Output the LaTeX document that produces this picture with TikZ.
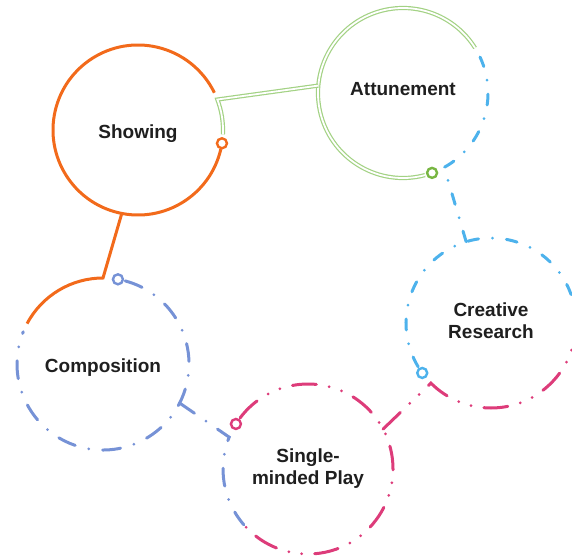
\documentclass[tikz,border=0pt]{standalone}
\usepackage{fontspec}
\setmainfont{Liberation Sans}
\definecolor{showcol}{RGB}{242,106,27}
\definecolor{attucol}{RGB}{163,210,132}
\definecolor{attuedge}{RGB}{120,182,66}
\definecolor{creacol}{RGB}{77,178,236}
\definecolor{playcol}{RGB}{221,60,122}
\definecolor{compcol}{RGB}{118,146,214}
\tikzset{
  stage/.style = {
    circle, minimum size=170pt, inner sep=0pt, outer sep=0pt,
    align=center, text=black!88,
    font=\bfseries\fontsize{19}{22}\selectfont
  },
  ring/.style = {circle, minimum size=10pt, inner sep=0pt, line width=2.4pt, fill=white},
  showline/.style = {showcol, line width=3pt},
  attuline/.style = {attucol, line width=1.2pt, double=white, double distance=1.8pt},
  crealine/.style = {creacol, line width=3pt, line cap=round,
    dash pattern=on 11pt off 14pt on 0pt off 14pt},
  playline/.style = {playcol, line width=3pt, line cap=round,
    dash pattern=on 24pt off 13pt on 0pt off 13pt on 0pt off 13pt},
  compline/.style = {compcol, line width=3pt, line cap=round,
    dash pattern=on 18pt off 14pt on 0pt off 14pt}
}

\begin{document}
\begin{tikzpicture}[x=1pt,y=1pt]
  \useasboundingbox (0,0) rectangle (572,558);
  % stages
  \node[stage, text height=22pt] (show) at (138,428) {Showing};
  \node[stage, text depth=8pt] (attu) at (403,465) {Attunement};
  \node[stage, text depth=5pt] (crea) at (491,235) {Creative\\Research};
  \node[stage] (play) at (308,89) {Single-\\minded Play};
  \node[stage, minimum size=172pt, text height=20pt] (comp) at (103,194) {Composition};
  \pgfmathsetmacro{\brad}{85}
  % own arcs
  \draw[showline] (show.-13) arc[start angle=-13, end angle=-334, radius=\brad];
  \draw[attuline] (attu.-75) arc[start angle=-75, end angle=-328, radius=\brad];
  \draw[crealine] (crea.-149) arc[start angle=-149, end angle=-358, radius=\brad];
  \draw[playline] (play.143) arc[start angle=143, end angle=-137, radius=\brad];
  \draw[compline] (comp.75) arc[start angle=75, end angle=-202, radius=86];
  % links
  \draw[showline] (show.-101) -- (comp.90) arc[start angle=90, end angle=152, radius=86];
  \draw[attuline] (attu.175) -- (show.21) arc[start angle=21, end angle=-3, radius=\brad];
  \draw[crealine] (crea.107) -- (attu.-61) arc[start angle=-61, end angle=25, radius=\brad];
  \draw[playline] (play.28) -- (crea.-135) arc[start angle=-135, end angle=-2, radius=\brad];
  \draw[compline] (comp.-27) -- (play.158) arc[start angle=158, end angle=221, radius=\brad];
  % rings
  \foreach \n/\at/\col in {1/show.-9/showcol, 2/attu.-70/attuedge, 3/crea.-144/creacol,
                           4/play.148/playcol, 5/comp.80/compcol} {
    \node[ring, draw=\col] (ring\n) at (\at) {};
  }
\end{tikzpicture}
\end{document}
